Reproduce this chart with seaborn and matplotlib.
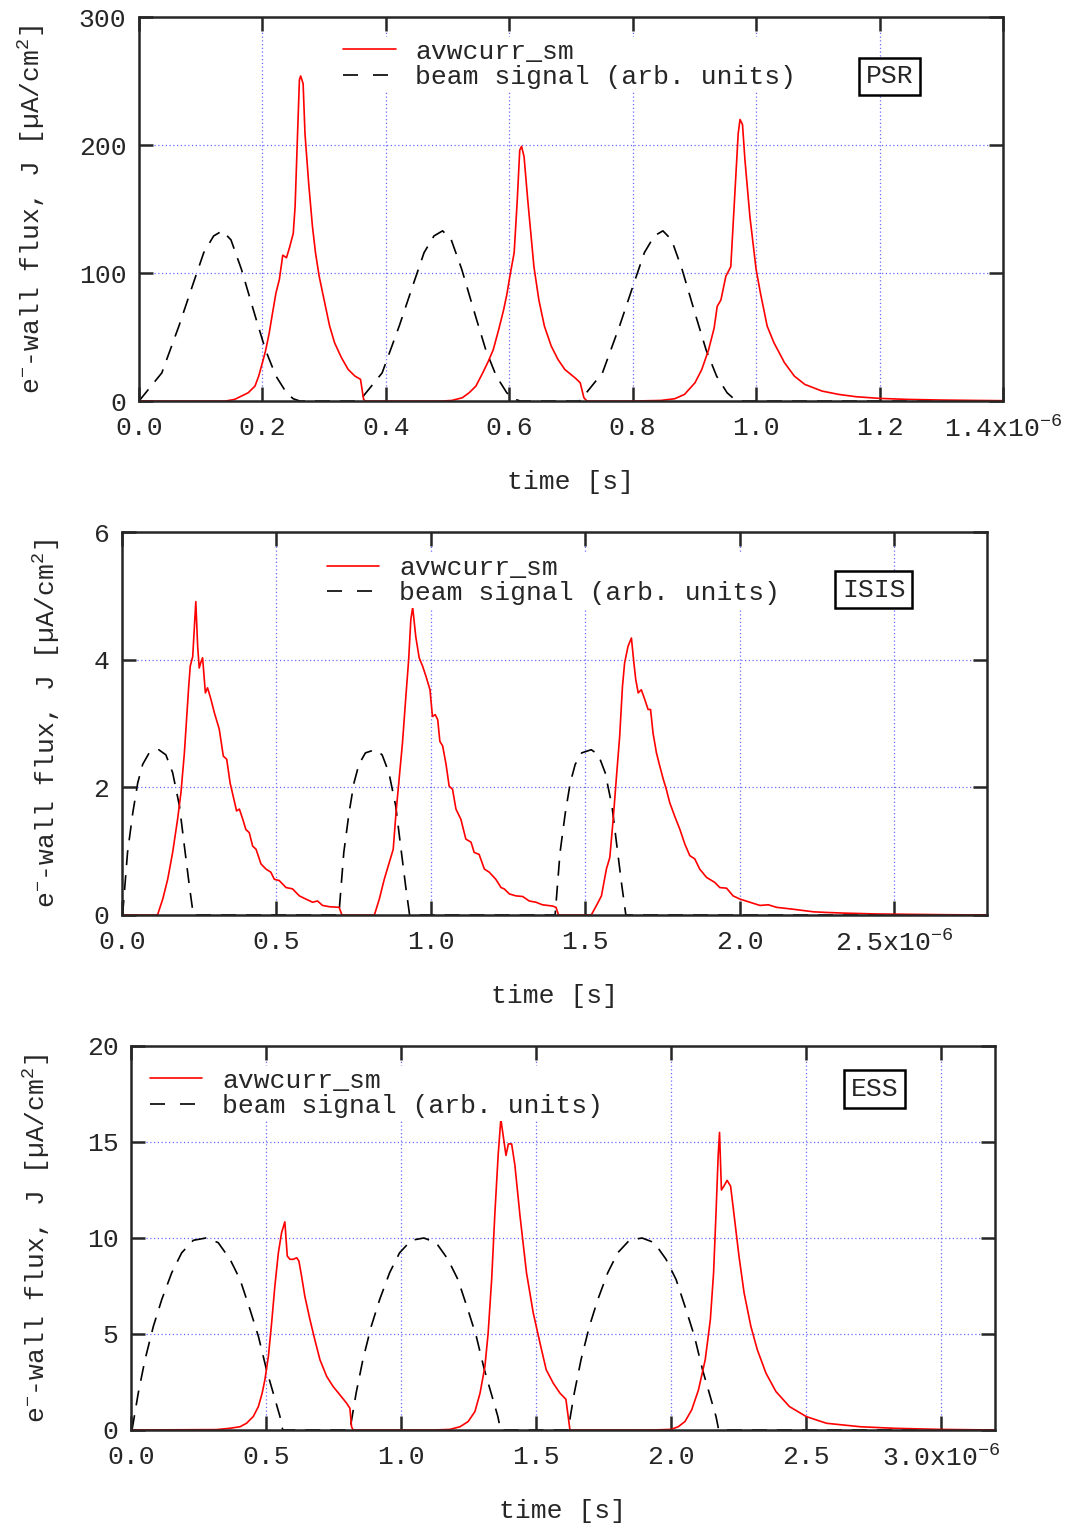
import matplotlib
matplotlib.use("Agg")
import matplotlib.pyplot as plt
from matplotlib.lines import Line2D
import seaborn as sns

sns.set_style("ticks")
plt.rcParams.update({
    "font.family": ["Liberation Mono", "DejaVu Sans Mono", "DejaVu Sans"],
    "mathtext.fontset": "custom",
    "mathtext.rm": "Liberation Mono",
    "mathtext.it": "Liberation Mono",
    "mathtext.bf": "Liberation Mono",
    "font.size": 19,
    "axes.linewidth": 1.8,
})

# ---- PSR (time in units of 1e-6 s) ----
psr_red_t = [0, 0.14, 0.155, 0.166, 0.177, 0.188, 0.194, 0.200, 0.205, 0.211, 0.216, 0.222, 0.2275,
             0.233, 0.239, 0.244, 0.250, 0.253, 0.257, 0.260, 0.262, 0.266, 0.269, 0.275, 0.281,
             0.286, 0.292, 0.300, 0.309, 0.317, 0.328, 0.339, 0.350, 0.359, 0.364, 0.367,
             0.49, 0.507, 0.524, 0.535, 0.546, 0.557, 0.566, 0.574, 0.583, 0.591, 0.596, 0.601,
             0.608, 0.613, 0.617, 0.620, 0.624, 0.630, 0.640, 0.648, 0.657, 0.668, 0.679, 0.690,
             0.707, 0.715, 0.721, 0.726,
             0.80, 0.846, 0.868, 0.884, 0.901, 0.912, 0.923, 0.932, 0.937, 0.943, 0.951, 0.959,
             0.965, 0.971, 0.974, 0.978, 0.982, 0.990, 1.0, 1.007, 1.018, 1.029, 1.046, 1.062,
             1.079, 1.107, 1.134, 1.162, 1.2, 1.246, 1.301, 1.357, 1.4]
psr_red_j = [0, 0, 1.3, 3.9, 6.5, 11.7, 19.5, 30, 39, 53, 67.6, 84.5, 95,
             114, 112, 120, 131, 152, 209, 251, 254, 248, 209, 170, 137,
             116, 97.5, 79, 58.5, 45.5, 34, 24.7, 19.5, 17, 1.3, 0,
             0, 0.5, 2.6, 6.5, 11.7, 22, 31, 40, 56, 71.5, 83, 97.5,
             116, 157, 196, 199, 191, 157, 105, 79, 58.5, 43, 32.5, 24.7,
             18, 14.3, 2.6, 0,
             0, 0.5, 1.8, 5.2, 14.3, 24.7, 40, 57, 74, 79, 97.5, 105,
             157, 209, 220, 216, 188, 144, 103, 84.5, 58.5, 45.5, 30, 19.5,
             13, 7.8, 5.2, 3.4, 2.1, 1.3, 0.8, 0.5, 0.3]
psr_beam_t = [0, 0.037, 0.065, 0.088, 0.105, 0.121, 0.135, 0.149, 0.166, 0.188, 0.205, 0.222, 0.239, 0.250, 0.261,
              0.357, 0.394, 0.422, 0.445, 0.462, 0.478, 0.492, 0.506, 0.523, 0.545, 0.562, 0.579, 0.596, 0.607, 0.618,
              0.714, 0.751, 0.779, 0.802, 0.819, 0.835, 0.849, 0.863, 0.880, 0.902, 0.919, 0.936, 0.953, 0.964, 0.975,
              1.4]
psr_beam_j = [0, 22, 59, 92, 116, 129, 133, 126, 103, 67, 40, 19.5, 6.5, 1.8, 0,
              0, 22, 59, 92, 116, 129, 133, 126, 103, 67, 40, 19.5, 6.5, 1.8, 0,
              0, 22, 59, 92, 116, 129, 133, 126, 103, 67, 40, 19.5, 6.5, 1.8, 0,
              0]

# ---- ISIS ----
isis_red_t = [0, 0.115, 0.132, 0.148, 0.164, 0.180, 0.191, 0.202, 0.209, 0.216, 0.221, 0.229, 0.234,
              0.239, 0.245, 0.250, 0.256, 0.261, 0.270, 0.277, 0.288, 0.299, 0.315, 0.328, 0.339,
              0.350, 0.360, 0.371, 0.380, 0.391, 0.401, 0.412, 0.423, 0.434, 0.450, 0.466, 0.482,
              0.493, 0.509, 0.531, 0.552, 0.574, 0.595, 0.617, 0.633, 0.649, 0.671, 0.703, 0.712,
              0.817, 0.833, 0.849, 0.865, 0.878, 0.887, 0.897, 0.908, 0.919, 0.928, 0.935, 0.941,
              0.951, 0.962, 0.973, 0.984, 0.997, 1.005, 1.014, 1.022, 1.029, 1.038, 1.049, 1.059,
              1.070, 1.081, 1.097, 1.113, 1.130, 1.140, 1.156, 1.173, 1.189, 1.210, 1.227, 1.237,
              1.254, 1.275, 1.297, 1.318, 1.340, 1.361, 1.394, 1.405, 1.413,
              1.519, 1.536, 1.552, 1.568, 1.579, 1.590, 1.600, 1.611, 1.620, 1.627, 1.638, 1.649,
              1.657, 1.663, 1.671, 1.681, 1.692, 1.703, 1.711, 1.719, 1.730, 1.741, 1.752, 1.762,
              1.773, 1.789, 1.806, 1.822, 1.838, 1.854, 1.870, 1.892, 1.919, 1.935, 1.957, 1.978,
              2.0, 2.032, 2.065, 2.092, 2.119, 2.173, 2.238, 2.281, 2.335, 2.443, 2.551, 2.659, 2.8]
isis_red_j = [0, 0, 0.25, 0.56, 0.98, 1.5, 1.92, 2.54, 3.06, 3.58, 3.9, 4.05, 4.47,
              4.91, 4.21, 3.87, 3.97, 4.03, 3.48, 3.56, 3.38, 3.17, 2.91, 2.49, 2.44,
              2.07, 1.86, 1.63, 1.66, 1.5, 1.34, 1.29, 1.08, 1.03, 0.8, 0.72, 0.67,
              0.56, 0.54, 0.43, 0.41, 0.30, 0.25, 0.2, 0.22, 0.15, 0.13, 0.12, 0,
              0, 0.25, 0.56, 0.82, 1.03, 1.6, 2.13, 2.7, 3.43, 4.0, 4.63, 4.82,
              4.36, 4.03, 3.9, 3.74, 3.53, 3.11, 3.14, 3.06, 2.72, 2.65, 2.36, 2.02,
              1.97, 1.66, 1.5, 1.19, 1.14, 0.98, 0.95, 0.72, 0.67, 0.56, 0.43, 0.41,
              0.33, 0.3, 0.29, 0.22, 0.2, 0.16, 0.14, 0.12, 0,
              0, 0.15, 0.3, 0.72, 0.9, 1.5, 2.13, 2.8, 3.58, 3.95, 4.21, 4.34,
              3.95, 3.69, 3.48, 3.53, 3.38, 3.22, 3.22, 2.85, 2.54, 2.33, 2.13, 1.97,
              1.76, 1.55, 1.34, 1.11, 0.93, 0.88, 0.72, 0.59, 0.51, 0.43, 0.42, 0.3,
              0.25, 0.2, 0.15, 0.16, 0.12, 0.09, 0.05, 0.04, 0.03, 0.016, 0.01, 0.005, 0]
isis_beam_t = [0.002, 0.018, 0.035, 0.051, 0.067, 0.088, 0.119, 0.142, 0.164, 0.186, 0.202, 0.218, 0.231,
               0.702, 0.718, 0.735, 0.751, 0.767, 0.788, 0.819, 0.842, 0.864, 0.886, 0.902, 0.918, 0.931,
               1.402, 1.418, 1.435, 1.451, 1.467, 1.488, 1.519, 1.542, 1.564, 1.586, 1.602, 1.618, 1.631,
               2.8]
isis_beam_j = [0, 0.98, 1.6, 2.07, 2.36, 2.54, 2.59, 2.51, 2.23, 1.71, 1.08, 0.46, 0,
               0, 0.98, 1.6, 2.07, 2.36, 2.54, 2.59, 2.51, 2.23, 1.71, 1.08, 0.46, 0,
               0, 0.98, 1.6, 2.07, 2.36, 2.54, 2.59, 2.51, 2.23, 1.71, 1.08, 0.46, 0,
               0]

# ---- ESS ----
ess_red_t = [0, 0.317, 0.367, 0.404, 0.428, 0.453, 0.472, 0.486, 0.496, 0.509, 0.521, 0.533, 0.546,
             0.558, 0.570, 0.579, 0.589, 0.601, 0.614, 0.622, 0.632, 0.644, 0.663, 0.681, 0.700,
             0.725, 0.749, 0.774, 0.799, 0.811, 0.817, 0.823,
             1.12, 1.181, 1.219, 1.249, 1.274, 1.293, 1.311, 1.323, 1.336, 1.348, 1.360, 1.370,
             1.379, 1.389, 1.398, 1.410, 1.422, 1.441, 1.465, 1.490, 1.515, 1.538, 1.564, 1.589,
             1.611, 1.626,
             1.928, 2.0, 2.027, 2.052, 2.077, 2.102, 2.127, 2.146, 2.158, 2.167, 2.175, 2.180,
             2.187, 2.196, 2.208, 2.221, 2.233, 2.252, 2.271, 2.296, 2.320, 2.352, 2.389, 2.439,
             2.501, 2.576, 2.701, 2.825, 3.0, 3.2]
ess_red_j = [0, 0.02, 0.09, 0.17, 0.35, 0.7, 1.22, 1.92, 2.61, 3.83, 5.57, 7.49, 9.23,
             10.28, 10.84, 9.06, 8.89, 8.89, 8.97, 8.8, 8.01, 6.97, 5.75, 4.7, 3.66,
             2.79, 2.26, 1.83, 1.39, 1.13, 0.17, 0,
             0, 0.03, 0.17, 0.44, 0.96, 1.92, 3.31, 5.05, 7.84, 11.3, 14.3, 16.2,
             15.3, 14.3, 14.9, 14.9, 13.8, 11.15, 8.19, 6.1, 4.53, 3.14, 2.44, 1.92,
             1.6, 0,
             0, 0.03, 0.17, 0.44, 1.05, 2.09, 3.66, 5.75, 8.19, 11.3, 14.3, 15.5,
             12.5, 12.7, 13.0, 12.7, 11.3, 9.06, 7.14, 5.4, 4.18, 2.96, 2.0, 1.22,
             0.7, 0.35, 0.17, 0.09, 0.03, 0]
ess_beam_t = [0.004, 0.027, 0.052, 0.083, 0.114, 0.151, 0.188, 0.231, 0.278, 0.323, 0.367, 0.404, 0.441,
              0.472, 0.502, 0.527, 0.552, 0.562,
              0.811, 0.834, 0.859, 0.890, 0.921, 0.958, 0.995, 1.038, 1.085, 1.130, 1.174, 1.211, 1.248,
              1.279, 1.309, 1.334, 1.359, 1.369,
              1.619, 1.642, 1.667, 1.698, 1.729, 1.766, 1.803, 1.846, 1.893, 1.938, 1.982, 2.019, 2.056,
              2.087, 2.117, 2.142, 2.167, 2.177,
              3.2]
ess_beam_j = [0, 1.92, 3.66, 5.4, 6.79, 8.19, 9.23, 9.88, 10.0, 9.76, 8.89, 7.84, 6.27,
              4.88, 3.14, 1.92, 0.7, 0,
              0, 1.92, 3.66, 5.4, 6.79, 8.19, 9.23, 9.88, 10.0, 9.76, 8.89, 7.84, 6.27,
              4.88, 3.14, 1.92, 0.7, 0,
              0, 1.92, 3.66, 5.4, 6.79, 8.19, 9.23, 9.88, 10.0, 9.76, 8.89, 7.84, 6.27,
              4.88, 3.14, 1.92, 0.7, 0,
              0]

psr_xticks = [0, 0.2, 0.4, 0.6, 0.8, 1.0, 1.2, 1.4]
psr_xlabels = ["0.0", "0.2", "0.4", "0.6", "0.8", "1.0", "1.2", "1.4x10$^{-6}$"]
isis_xticks = [0, 0.5, 1.0, 1.5, 2.0, 2.5]
isis_xlabels = ["0.0", "0.5", "1.0", "1.5", "2.0", "2.5x10$^{-6}$"]
ess_xticks = [0, 0.5, 1.0, 1.5, 2.0, 2.5, 3.0]
ess_xlabels = ["0.0", "0.5", "1.0", "1.5", "2.0", "2.5", "3.0x10$^{-6}$"]

ylab = "e$^{-}$-wall flux, J [µA/cm$^{2}$]"


def panel(ax, rt, rj, bt, bj, xmax, ymax, yticks, xticks, xlabels, tag, tag_xy, leg_xy, ylab_x):
    sns.lineplot(x=bt, y=bj, ax=ax, color="black", lw=1.2, linestyle=(0, (9, 6)),
                 estimator=None, sort=False, legend=False)
    sns.lineplot(x=rt, y=rj, ax=ax, color="red", lw=1.2,
                 estimator=None, sort=False, legend=False)
    ax.set_xlim(0, xmax)
    ax.set_ylim(0, ymax)
    ax.set_xticks(xticks, xlabels)
    ax.set_yticks(yticks)
    ax.tick_params(direction="in", length=10, width=1.8, top=True, right=True, labelsize=19)
    ax.tick_params(axis="x", pad=11)
    ax.tick_params(axis="y", pad=9)
    ax.set_axisbelow(True)
    ax.grid(True, color="#6a6aff", lw=0.9, ls=(0, (1, 2)))
    for s in ax.spines.values():
        s.set_zorder(5)
    handles = [Line2D([], [], color="red", lw=1.2),
               Line2D([], [], color="black", lw=1.2, ls=(0, (9, 9)))]
    ax.legend(handles, ["avwcurr_sm", "beam signal (arb. units)"], loc="upper left",
              bbox_to_anchor=leg_xy, frameon=True,
              facecolor="white", edgecolor="none", framealpha=1, fancybox=False,
              borderpad=0.1, borderaxespad=0, handlelength=2.0, handletextpad=0.75,
              labelspacing=0.06, fontsize=19)
    ax.text(tag_xy[0], tag_xy[1], tag, transform=ax.transAxes, ha="center", va="center", fontsize=19,
            bbox=dict(boxstyle="square,pad=0.25", fc="white", ec="black", lw=1.8), zorder=6)
    ax.set_xlabel("time [s]", fontsize=19)
    ax.set_ylabel(ylab, fontsize=19)
    ax.xaxis.set_label_coords(0.5, -0.179)
    ax.yaxis.set_label_coords(ylab_x, 0.5)


fig = plt.figure(figsize=(10.69, 15.25), dpi=100)
ax1 = fig.add_axes([0.1300, 0.7370, 0.8082, 0.2518])
ax2 = fig.add_axes([0.1141, 0.4000, 0.8092, 0.2511])
ax3 = fig.add_axes([0.1225, 0.0623, 0.8082, 0.2518])

panel(ax1, psr_red_t, psr_red_j, psr_beam_t, psr_beam_j, 1.4, 300, [0, 100, 200, 300],
      psr_xticks, psr_xlabels, "PSR", (0.869, 0.846), (0.233, 0.948), -0.106)
panel(ax2, isis_red_t, isis_red_j, isis_beam_t, isis_beam_j, 2.8, 6, [0, 2, 4, 6],
      isis_xticks, isis_xlabels, "ISIS", (0.869, 0.849), (0.2335, 0.945), -0.069)
panel(ax3, ess_red_t, ess_red_j, ess_beam_t, ess_beam_j, 3.2, 20, [0, 5, 10, 15, 20],
      ess_xticks, ess_xlabels, "ESS", (0.861, 0.888), (0.0185, 0.948), -0.091)

fig.savefig("out.png", dpi=100)
